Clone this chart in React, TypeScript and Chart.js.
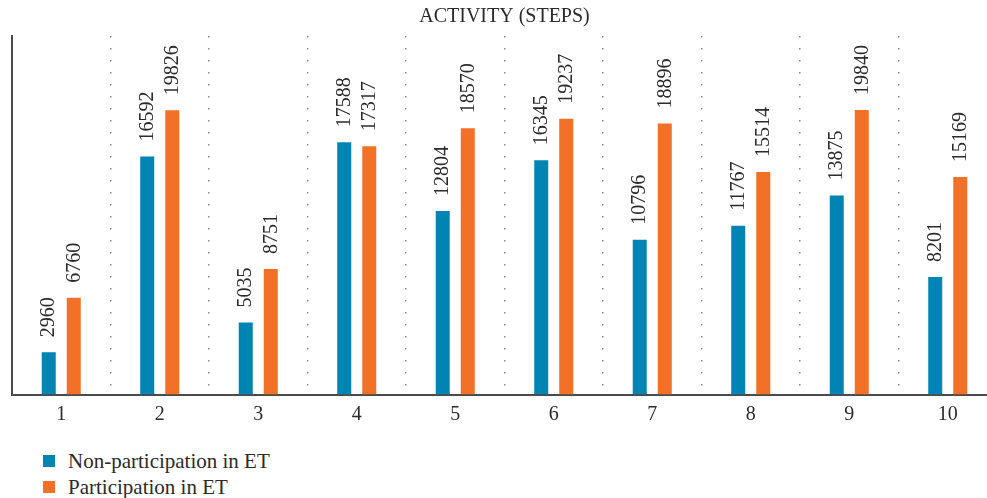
import React, { useEffect, useRef } from "react";
import { Chart, registerables } from "chart.js";

Chart.register(...registerables);

const categories = ["1", "2", "3", "4", "5", "6", "7", "8", "9", "10"];
const nonParticipation = [2960, 16592, 5035, 17588, 12804, 16345, 10796, 11767, 13875, 8201];
const participation = [6760, 19826, 8751, 17317, 18570, 19237, 18896, 15514, 19840, 15169];
const seriesNames = ["Non-participation in ET", "Participation in ET"];
const seriesColors = ["#0084B3", "#F37027"];
const chartTitle = "ACTIVITY (STEPS)";

const FONT = "'Liberation Serif', 'Times New Roman', serif";
const TEXT = "#2b2b2b";

const valueLabels = {
  id: "valueLabels",
  afterDatasetsDraw(chart: any) {
    const ctx = chart.ctx;
    ctx.save();
    ctx.font = `20px ${FONT}`;
    ctx.fillStyle = TEXT;
    ctx.textAlign = "left";
    ctx.textBaseline = "middle";
    chart.data.datasets.forEach((ds: any, di: number) => {
      const meta = chart.getDatasetMeta(di);
      meta.data.forEach((el: any, i: number) => {
        ctx.save();
        ctx.translate(el.x + 0.5, el.y - 15);
        ctx.rotate(-Math.PI / 2);
        ctx.fillText(String(ds.data[i]), 0, 0);
        ctx.restore();
      });
    });
    ctx.restore();
  },
};

export default function App() {
  const ref = useRef<HTMLCanvasElement | null>(null);
  useEffect(() => {
    document.body.style.margin = "0";
    if (!ref.current) return;
    const chart = new Chart(ref.current, {
      type: "bar",
      data: {
        labels: categories,
        datasets: [
          { label: seriesNames[0], data: nonParticipation, backgroundColor: seriesColors[0] },
          { label: seriesNames[1], data: participation, backgroundColor: seriesColors[1] },
        ],
      },
      options: {
        responsive: false,
        animation: false,
        datasets: { bar: { categoryPercentage: 0.508, barPercentage: 0.56 } },
        layout: { padding: { left: 12, right: 0, top: 0, bottom: 4.4 } },
        plugins: {
          legend: { display: false },
          tooltip: { enabled: false },
          title: {
            display: true,
            text: chartTitle,
            color: TEXT,
            font: { family: FONT, size: 20, weight: "normal", lineHeight: 1.2 },
            padding: { top: 5, bottom: 7 },
          },
        },
        scales: {
          x: {
            grid: {
              display: true,
              offset: true,
              drawTicks: false,
              color: "#8a8a8a",
              lineWidth: 1.5,
            },
            border: { display: true, color: "#4a4a4a", width: 2, dash: [1.5, 10.5] },
            ticks: {
              color: TEXT,
              padding: 8,
              font: { family: FONT, size: 20, lineHeight: 1.2 },
            },
          },
          y: {
            min: 0,
            max: 25000,
            grid: { display: false, drawTicks: false },
            border: { display: true, color: "#4a4a4a", width: 2 },
            ticks: { display: false },
          },
        },
      },
      plugins: [valueLabels],
    } as any);
    return () => chart.destroy();
  }, []);

  return (
    <div style={{ position: "absolute", left: 0, top: 0, width: 987, height: 498, overflow: "hidden", background: "#fff" }}>
      <canvas ref={ref} width={997} height={439} style={{ display: "block" }} />
      <div style={{ position: "absolute", left: 43, top: 448, fontFamily: FONT, fontSize: 21, color: TEXT }}>
        {seriesNames.map((n, i) => (
          <div key={n} style={{ display: "flex", alignItems: "center", height: 26 }}>
            <span style={{ width: 12, height: 12, background: seriesColors[i], display: "inline-block", marginRight: 13, flex: "none" }} />
            <span>{n}</span>
          </div>
        ))}
      </div>
    </div>
  );
}
